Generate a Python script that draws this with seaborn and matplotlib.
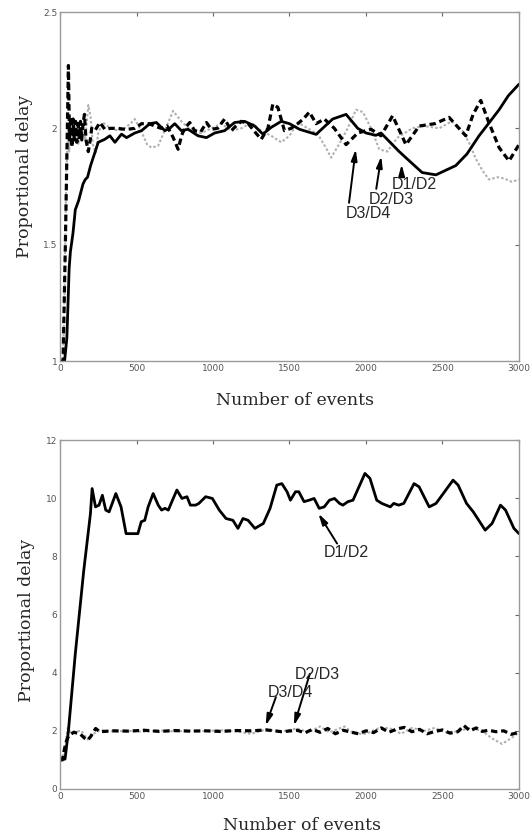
import numpy as np
import pandas as pd
import matplotlib
matplotlib.use("Agg")
import matplotlib.pyplot as plt
import seaborn as sns

# ---------------- data ----------------
# Top panel
top_d12_x = [30, 45, 60, 68, 85, 100, 122, 150, 165, 180, 200, 220, 250, 293, 326, 359, 402, 435, 489, 533, 587,
             630, 685, 717, 750, 793, 837, 902, 957, 1011, 1076, 1141, 1207, 1272, 1326, 1380, 1446, 1500, 1565,
             1674, 1782, 1870, 1946, 2000, 2065, 2098, 2217, 2300, 2367, 2457, 2587, 2660, 2739, 2800, 2870, 2930, 3000]
top_d12_y = [1.0, 1.1, 1.4, 1.47, 1.55, 1.65, 1.69, 1.76, 1.78, 1.79, 1.84, 1.88, 1.94, 1.953, 1.968, 1.94, 1.975,
             1.96, 1.98, 1.99, 2.02, 2.025, 1.99, 2.0, 2.02, 1.99, 1.996, 1.968, 1.96, 1.98, 1.99, 2.025, 2.03, 2.01,
             1.975, 2.004, 2.03, 2.02, 1.996, 1.974, 2.04, 2.06, 2.0, 1.98, 1.97, 1.98, 1.9, 1.85, 1.81, 1.80, 1.84,
             1.89, 1.968, 2.02, 2.08, 2.14, 2.19]

top_d34_x = [0, 20, 35, 55, 62, 70, 78, 86, 94, 102, 110, 118, 126, 134, 142, 150, 160, 170, 185, 200, 207, 228,
             261, 293, 330, 380, 430, 489, 533, 580, 620, 660, 700, 740, 772, 795, 815, 848, 880, 920, 957, 989,
             1030, 1076, 1120, 1150, 1185, 1230, 1280, 1315, 1359, 1391, 1424, 1467, 1510, 1554, 1590, 1630, 1674,
             1728, 1793, 1837, 1870, 1946, 2033, 2098, 2174, 2261, 2348, 2450, 2543, 2652, 2700, 2750, 2800, 2870,
             2935, 3000]
top_d34_y = [1.0, 1.0, 1.5, 2.27, 1.95, 2.05, 1.92, 2.04, 1.95, 2.03, 1.94, 2.02, 1.96, 2.03, 1.95, 2.02, 2.06,
             1.95, 1.90, 1.96, 2.0, 1.99, 2.025, 1.996, 2.0, 2.0, 1.995, 2.0, 2.02, 2.02, 2.01, 2.0, 2.01, 1.96, 1.91,
             1.97, 2.0, 2.025, 1.99, 1.985, 2.025, 1.996, 2.0, 2.04, 1.99, 2.01, 2.03, 2.02, 1.98, 1.953, 2.0, 2.104,
             2.09, 1.99, 2.0, 2.02, 2.04, 2.07, 2.02, 2.04, 2.0, 1.96, 1.93, 1.98, 1.996, 1.968, 2.054, 1.93, 2.01,
             2.02, 2.047, 1.968, 2.06, 2.12, 2.03, 1.917, 1.86, 1.93]

top_d23_x = [0, 20, 30, 40, 50, 60, 70, 80, 90, 100, 110, 120, 130, 140, 150, 165, 185, 200, 215, 233, 250, 280,
             330, 380, 420, 460, 489, 530, 570, 598, 641, 685, 739, 793, 859, 924, 990, 1054, 1120, 1185, 1250,
             1315, 1380, 1446, 1500, 1554, 1620, 1685, 1735, 1772, 1837, 1880, 1935, 1980, 2033, 2087, 2139, 2206,
             2302, 2380, 2478, 2560, 2630, 2680, 2717, 2760, 2804, 2860, 2900, 2954, 3000]
top_d23_y = [1.0, 1.0, 1.3, 1.75, 2.0, 1.9, 2.03, 1.92, 2.04, 1.95, 2.01, 1.93, 2.0, 1.96, 2.02, 1.95, 2.10, 2.05,
             1.93, 1.895, 1.98, 2.025, 2.0, 1.99, 2.0, 2.02, 2.04, 1.99, 1.93, 1.917, 1.925, 1.99, 2.075, 2.03, 1.99,
             1.98, 2.0, 2.02, 1.99, 2.0, 2.025, 1.99, 1.968, 1.94, 1.968, 2.025, 2.0, 1.975, 1.92, 1.874, 1.946, 2.0,
             2.08, 2.07, 2.0, 1.91, 1.90, 1.96, 2.0, 2.01, 2.0, 2.03, 1.99, 1.93, 1.87, 1.82, 1.78, 1.79, 1.785,
             1.77, 1.78]

# Bottom panel
bot_d12_x = [0, 33, 55, 100, 155, 199, 210, 232, 255, 277, 299, 321, 365, 399, 432, 465, 509, 531, 554, 576, 609,
             642, 664, 686, 708, 731, 764, 797, 830, 852, 886, 908, 952, 996, 1041, 1085, 1130, 1163, 1196, 1229,
             1274, 1329, 1373, 1417, 1450, 1484, 1506, 1539, 1561, 1595, 1628, 1661, 1694, 1727, 1761, 1794, 1827,
             1849, 1882, 1915, 1993, 2026, 2070, 2103, 2159, 2181, 2214, 2247, 2314, 2347, 2413, 2458, 2569, 2602,
             2657, 2701, 2779, 2824, 2879, 2912, 2967, 3000]
bot_d12_y = [1.0, 1.03, 2.0, 4.65, 7.5, 9.47, 10.33, 9.7, 9.76, 10.1, 9.59, 9.53, 10.16, 9.7, 8.78, 8.78, 8.78,
             9.19, 9.24, 9.7, 10.16, 9.76, 9.59, 9.65, 9.59, 9.88, 10.28, 9.99, 10.05, 9.76, 9.76, 9.82, 10.05, 9.99,
             9.59, 9.3, 9.24, 8.96, 9.3, 9.24, 8.96, 9.13, 9.65, 10.45, 10.5, 10.22, 9.93, 10.22, 10.22, 9.88, 9.93,
             9.99, 9.65, 9.7, 9.93, 9.99, 9.82, 9.76, 9.88, 9.93, 10.85, 10.68, 9.93, 9.82, 9.7, 9.82, 9.76, 9.82,
             10.5, 10.39, 9.7, 9.82, 10.62, 10.45, 9.82, 9.53, 8.9, 9.13, 9.76, 9.59, 8.96, 8.78]

bot_dash_x = [0, 15, 30, 45, 60, 90, 130, 160, 180, 200, 233, 260, 350, 450, 550, 650, 750, 850, 950, 1050, 1150,
              1250, 1350, 1450, 1550, 1600, 1650, 1700, 1750, 1800, 1850, 1900, 1950, 2000, 2050, 2100, 2150, 2200,
              2250, 2300, 2350, 2400, 2450, 2500, 2550, 2600, 2640, 2680, 2720, 2760, 2800, 2850, 2900, 2950, 3000]
bot_dash_y = [1.0, 1.0, 1.4, 1.7, 1.85, 1.95, 1.9, 1.75, 1.68, 1.8, 2.08, 1.97, 2.0, 1.99, 2.02, 1.98, 2.01, 1.99,
              2.0, 1.98, 2.01, 2.0, 2.03, 1.97, 2.02, 1.93, 2.05, 1.95, 2.08, 1.9, 2.02, 1.96, 1.9, 2.0, 1.94, 2.1,
              1.95, 2.06, 2.12, 1.97, 2.05, 1.9, 1.98, 2.03, 1.92, 1.97, 2.18, 2.0, 2.1, 1.98, 2.02, 1.97, 2.0, 1.88,
              1.95]

bot_dot_x = [0, 20, 35, 50, 70, 100, 140, 180, 220, 260, 350, 450, 550, 650, 750, 850, 950, 1050, 1150, 1250, 1350,
             1450, 1550, 1620, 1700, 1760, 1860, 1920, 2000, 2080, 2150, 2230, 2300, 2380, 2450, 2520, 2600, 2680,
             2760, 2820, 2889, 2950, 3000]
bot_dot_y = [1.0, 1.1, 1.5, 2.1, 1.95, 1.98, 2.0, 1.7, 1.9, 2.02, 1.98, 2.0, 1.97, 2.01, 1.98, 2.0, 1.99, 2.02,
             1.98, 1.9, 2.05, 1.98, 2.08, 1.95, 2.15, 1.95, 2.15, 1.9, 1.9, 2.08, 2.1, 1.9, 2.1, 2.0, 2.1, 1.95,
             1.98, 2.1, 2.0, 1.75, 1.55, 1.75, 1.95]

top_yticks = [1, 1.5, 2, 2.5]
top_yticklabels = ["1", "1.5", "2", "2.5"]
bot_yticks = [0, 2, 4, 6, 8, 10, 12]
xticks = [0, 500, 1000, 1500, 2000, 2500, 3000]

top_labels = ["D1/D2", "D2/D3", "D3/D4"]
bot_labels = ["D1/D2", "D2/D3", "D3/D4"]

# ---------------- styling ----------------
sns.set_theme(style="white")
plt.rcParams["font.family"] = ["DejaVu Sans"]

W, H = 532, 836
fig = plt.figure(figsize=(W / 100, H / 100), dpi=100)


def fx(px):
    return px / W


def fy(py):
    return 1 - py / H


ax_top = fig.add_axes([fx(60), fy(361), fx(519) - fx(60), fy(12) - fy(361)])
ax_bot = fig.add_axes([fx(60), fy(789), fx(519) - fx(60), fy(440) - fy(789)])

GRAY = "#b0b0b0"
SPINE = "#9a9a9a"


def draw_lines(ax, solid, dashed, dotted):
    sns.lineplot(x=dotted[0], y=dotted[1], ax=ax, color=GRAY, lw=1.5, linestyle=(0, (1.2, 1.0)),
                 sort=False, estimator=None)
    sns.lineplot(x=dashed[0], y=dashed[1], ax=ax, color="black", lw=2.3, linestyle=(0, (2.0, 1.2)),
                 sort=False, estimator=None)
    sns.lineplot(x=solid[0], y=solid[1], ax=ax, color="black", lw=2.0, sort=False, estimator=None)


draw_lines(ax_top, (top_d12_x, top_d12_y), (top_d34_x, top_d34_y), (top_d23_x, top_d23_y))
draw_lines(ax_bot, (bot_d12_x, bot_d12_y), (bot_dash_x, bot_dash_y), (bot_dot_x, bot_dot_y))

for ax in (ax_top, ax_bot):
    ax.set_xlim(0, 3000)
    ax.set_xticks(xticks)
    ax.set_xticklabels([str(t) for t in xticks])
    for s in ax.spines.values():
        s.set_color(SPINE)
        s.set_linewidth(1.0)
    ax.tick_params(direction="in", length=3, width=0.8, color="#666666", labelsize=6.5,
                   labelcolor="#555555", top=True, right=True, pad=2)
    ax.set_xlabel("")
    ax.set_ylabel("")
    ax.set_facecolor("white")

ax_top.set_ylim(1, 2.5)
ax_top.set_yticks(top_yticks)
ax_top.set_yticklabels(top_yticklabels)
ax_bot.set_ylim(0, 12)
ax_bot.set_yticks(bot_yticks)
ax_bot.set_yticklabels([str(t) for t in bot_yticks])

# axis titles (serif)
serif = ["DejaVu Serif"]
fig.text(fx(295), fy(400), "Number of events", ha="center", va="center", fontsize=12.5, family=serif)
fig.text(fx(302), fy(825), "Number of events", ha="center", va="center", fontsize=12.5, family=serif)
fig.text(fx(25), fy(176), "Proportional delay", ha="center", va="center", rotation=90, fontsize=12.5,
         family=serif)
fig.text(fx(27), fy(620), "Proportional delay", ha="center", va="center", rotation=90, fontsize=12.5,
         family=serif)

# annotations
sans = ["Liberation Sans", "DejaVu Sans"]
arrow = dict(arrowstyle="-|>,head_length=0.55,head_width=0.15", color="black", lw=1.4, shrinkA=0, shrinkB=0)

top_text_xy = [(2167, 1.76), (2018, 1.694), (1867, 1.634)]
top_arrow_from = [(2233, 1.80), (2067, 1.74), (1889, 1.68)]
top_arrow_to = [(2233, 1.845), (2100, 1.88), (1933, 1.91)]
for lab, t, a0, a1 in zip(top_labels, top_text_xy, top_arrow_from, top_arrow_to):
    ax_top.annotate("", xy=a1, xytext=a0, arrowprops=arrow)
    ax_top.text(t[0], t[1], lab, ha="left", va="center", fontsize=11.5, family=sans)

bot_text_xy = [(1722, 8.12), (1533, 3.94), (1355, 3.33)]
bot_arrow_from = [(1811, 8.44), (1633, 3.96), (1411, 3.16)]
bot_arrow_to = [(1689, 9.47), (1529, 2.18), (1344, 2.18)]
for lab, t, a0, a1 in zip(bot_labels, bot_text_xy, bot_arrow_from, bot_arrow_to):
    ax_bot.annotate("", xy=a1, xytext=a0, arrowprops=arrow)
    ax_bot.text(t[0], t[1], lab, ha="left", va="center", fontsize=11.5, family=sans)

fig.savefig("out.png", dpi=100, facecolor="white")
